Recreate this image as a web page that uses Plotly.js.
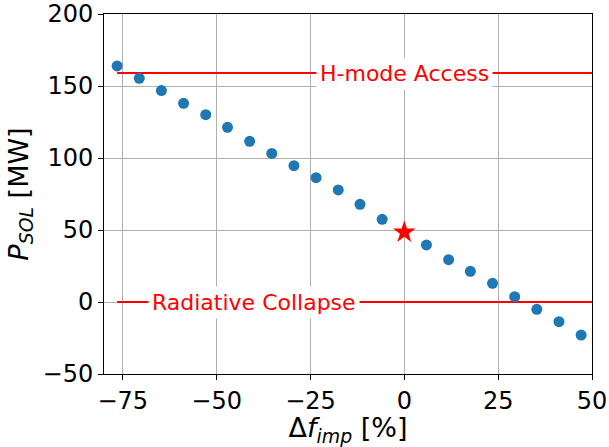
<!DOCTYPE html>
<html>
<head>
<meta charset="utf-8">
<script src="https://cdn.plot.ly/plotly-3.0.1.min.js"></script>
<style>html,body{margin:0;padding:0;background:#fff;}#chart{width:609px;height:447px;}</style>
</head>
<body>
<div id="chart"></div>
<script>
// Scan points
const deltaF = [-76.5, -70.6, -64.7, -58.8, -52.9, -47.1, -41.2, -35.3, -29.4, -23.5, -17.6, -11.8, -5.9,
                5.9, 11.8, 17.6, 23.5, 29.4, 35.3, 41.2, 47.1];
const pSol   = [163.9, 155.3, 146.8, 138.0, 130.1, 121.3, 111.6, 103.2, 94.7, 86.3, 77.8, 67.8, 57.4,
                39.6, 29.4, 21.3, 13.0, 3.7, -5.1, -13.7, -23.0];
// Reference (star) point
const refX = [0];
const refY = [48.4];
// Threshold lines
const hmodeX = [-76.5, 50];
const hmodeY = [159, 159];
const hmodeLabel = "H-mode Access";
const hmodeLabelX = 0;
const radX = [-76.5, 50];
const radY = [0, 0];
const radLabel = "Radiative Collapse";
const radLabelX = -40;

const font = "DejaVu Sans, sans-serif";

const traces = [
  {x: hmodeX, y: hmodeY, mode: "lines", line: {color: "#ff0000", width: 2}, hoverinfo: "skip"},
  {x: radX, y: radY, mode: "lines", line: {color: "#ff0000", width: 2}, hoverinfo: "skip"},
  {x: deltaF, y: pSol, mode: "markers", marker: {color: "#1f77b4", size: 11}},
  {x: refX, y: refY, mode: "markers", marker: {color: "#ff0000", size: 17, symbol: "star"}}
];

const layout = {
  width: 609, height: 447,
  margin: {l: 104, r: 17, t: 14, b: 73},
  paper_bgcolor: "#fff", plot_bgcolor: "#fff",
  showlegend: false,
  font: {family: font, size: 24, color: "#000"},
  xaxis: {
    range: [-80, 50], tickvals: [-75, -50, -25, 0, 25, 50],
    showgrid: true, gridcolor: "#b0b0b0", gridwidth: 1,
    zeroline: false, showline: true, linecolor: "#000", linewidth: 1, mirror: true,
    ticks: "outside", ticklen: 5, tickcolor: "#000",
    tickfont: {family: font, size: 24},
    title: {text: "Δ<i>f</i><sub><i>imp</i></sub> [%]", font: {family: font, size: 27}, standoff: 2}
  },
  yaxis: {
    range: [-50, 200], tickvals: [-50, 0, 50, 100, 150, 200],
    showgrid: true, gridcolor: "#b0b0b0", gridwidth: 1,
    zeroline: false, showline: true, linecolor: "#000", linewidth: 1, mirror: true,
    ticks: "outside", ticklen: 5, tickcolor: "#000",
    tickfont: {family: font, size: 24},
    title: {text: "<i>P</i><sub><i>SOL</i></sub> [MW]", font: {family: font, size: 27}, standoff: 6}
  },
  annotations: [
    {x: hmodeLabelX, y: hmodeY[0], xref: "x", yref: "y", text: hmodeLabel, showarrow: false,
     font: {family: font, size: 22, color: "#ff0000"}, bgcolor: "#fff", borderpad: 3},
    {x: radLabelX, y: radY[0], xref: "x", yref: "y", text: radLabel, showarrow: false,
     font: {family: font, size: 22, color: "#ff0000"}, bgcolor: "#fff", borderpad: 3}
  ]
};

Plotly.newPlot("chart", traces, layout, {displayModeBar: false, staticPlot: true});
</script>
</body>
</html>
